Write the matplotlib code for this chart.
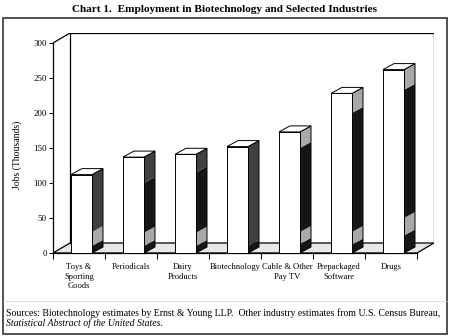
import numpy as np
import matplotlib
matplotlib.use('Agg')
import matplotlib.pyplot as plt
from matplotlib.patches import Polygon, Rectangle
from matplotlib.lines import Line2D

plt.rcParams['font.family'] = ['Liberation Serif', 'DejaVu Serif']

# data
industries = ['Toys &\nSporting\nGoods', 'Periodicals', 'Dairy\nProducts', 'Biotechnology',
              'Cable & Other\nPay TV', 'Prepackaged\nSoftware', 'Drugs']
jobs = [112, 137, 141, 152, 173, 228, 262]
yticks = [0, 50, 100, 150, 200, 250, 300]

# shading bands on the side face of each bar (from, to, tone)
side_bands = [
    [(0, 10, 'k'), (10, 30, 'g'), (30, 112, 'd')],
    [(0, 10, 'k'), (10, 29, 'g'), (29, 100, 'k'), (100, 137, 'd')],
    [(0, 10, 'k'), (10, 29, 'g'), (29, 115, 'k'), (115, 141, 'd')],
    [(0, 10, 'k'), (10, 152, 'd')],
    [(0, 13, 'k'), (13, 30, 'g'), (30, 150, 'k'), (150, 173, 'g')],
    [(0, 12, 'k'), (12, 30, 'g'), (30, 200, 'k'), (200, 228, 'g')],
    [(0, 25, 'k'), (25, 50, 'g'), (50, 233, 'k'), (233, 262, 'g')],
]
tones = {'k': '#161616', 'g': '#a8a8a8', 'd': '#404040'}

W, H = 450, 336
fig = plt.figure(figsize=(W / 100, H / 100), dpi=100)

# pseudo-3D geometry (data units)
px_x = 52.0     # pixels per category
px_y = 0.7      # pixels per thousand
dx = 17 / px_x  # floor depth
dy = 10 / px_y
bar_off = 18 / px_x
bar_w = 21 / px_x
sdx = 11 / px_x
sdy = 6 / px_y
n = len(industries)

ax_w = (n + dx) * px_x
ax_h = (300 + dy) * px_y
ax = fig.add_axes([53 / W, (H - 253) / H, ax_w / W, ax_h / H])
ax.set_xlim(0, n + dx)
ax.set_ylim(0, 300 + dy)
ax.patch.set_alpha(0)

lw = 0.9
# floor
ax.add_patch(Polygon([(0, 0), (n, 0), (n + dx, dy), (dx, dy)], closed=True,
                     facecolor='#e8e8e8', edgecolor='k', lw=lw, zorder=1))
# back wall
ax.plot([dx, dx, n + dx, n + dx], [dy, 300 + dy, 300 + dy, dy], color='k', lw=lw, zorder=1)
ax.plot([0, dx], [300, 300 + dy], color='k', lw=lw, zorder=1)

# bars
for i, (v, bands) in enumerate(zip(jobs, side_bands)):
    x0 = i + bar_off
    x1 = x0 + bar_w
    for a, b, t in bands:
        ax.add_patch(Polygon([(x1, a), (x1 + sdx, a + sdy), (x1 + sdx, b + sdy), (x1, b)],
                             closed=True, facecolor=tones[t], edgecolor='none', zorder=3))
    ax.add_patch(Polygon([(x1, 0), (x1 + sdx, sdy), (x1 + sdx, v + sdy), (x1, v)],
                         closed=True, facecolor='none', edgecolor='k', lw=0.7, zorder=4))
    ax.add_patch(Polygon([(x0, v), (x1, v), (x1 + sdx, v + sdy), (x0 + sdx, v + sdy)],
                         closed=True, facecolor='white', edgecolor='k', lw=0.7, zorder=4))
    ax.add_patch(Rectangle((x0, 0), bar_w, v, facecolor='white', edgecolor='k', lw=0.7, zorder=4))

for s in ['top', 'right']:
    ax.spines[s].set_visible(False)
ax.spines['left'].set_bounds(0, 300)
ax.spines['bottom'].set_bounds(0, n)
ax.spines['left'].set_linewidth(lw)
ax.spines['bottom'].set_linewidth(lw)

ax.set_yticks(yticks)
ax.set_yticklabels([str(t) for t in yticks], fontsize=6.5)
ax.tick_params(axis='y', direction='out', length=3, width=0.7, pad=1.5)
ax.set_xticks(np.arange(n + 1))
ax.set_xticklabels([])
ax.set_xticks(np.arange(n) + 0.5, minor=True)
ax.set_xticklabels(industries, minor=True, fontsize=6.1, linespacing=1.3)
ax.tick_params(axis='x', which='major', direction='out', length=4, width=0.7)
ax.tick_params(axis='x', which='minor', length=0, pad=7)
ax.set_ylabel('Jobs (Thousands)', fontsize=7)
ax.yaxis.set_label_coords(-31 / ax_w, (253 - 155) / ax_h)

# title, frame and source note
fig.text(0.5, 1 - 10 / H, 'Chart 1.  Employment in Biotechnology and Selected Industries',
         ha='center', va='center', fontsize=8.1, fontweight='bold')
fig.add_artist(Rectangle((3 / W, 2 / H), 444 / W, 316 / H, transform=fig.transFigure,
                         fill=False, edgecolor='#333333', lw=1.2))
fig.add_artist(Line2D([3 / W, 447 / W], [1 - 301 / H, 1 - 301 / H], transform=fig.transFigure,
                      color='#d0d0d0', lw=0.5))
fig.text(6 / W, 1 - 313 / H,
         'Sources: Biotechnology estimates by Ernst & Young LLP.  Other industry estimates from U.S. Census Bureau,',
         ha='left', va='center', fontsize=7.0)
fig.text(6 / W, 1 - 323.5 / H, 'Statistical Abstract of the United States.',
         ha='left', va='center', fontsize=7.0, style='italic')

fig.savefig('out.png', dpi=100)
